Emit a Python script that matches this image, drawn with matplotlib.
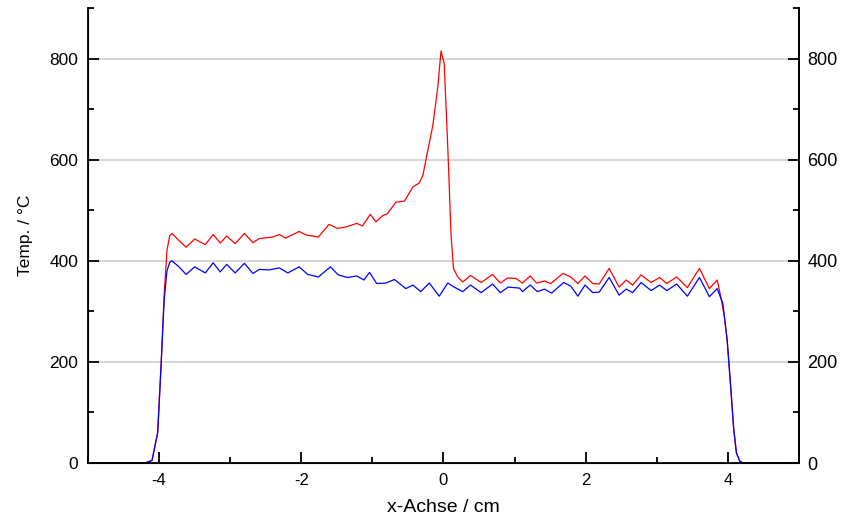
import matplotlib
matplotlib.use('Agg')
import matplotlib.pyplot as plt
from matplotlib.ticker import MultipleLocator

plt.rcParams['axes.unicode_minus'] = False
plt.rcParams['font.family'] = ['Liberation Sans', 'DejaVu Sans']

# rote Kurve
x_rot = [-5.0, -4.2, -4.1, -4.02, -3.97, -3.93, -3.89, -3.85, -3.82, -3.72, -3.62, -3.50,
         -3.35, -3.24, -3.14, -3.05, -2.93, -2.80, -2.68, -2.59, -2.40, -2.31, -2.22,
         -2.03, -1.93, -1.76, -1.61, -1.49, -1.37, -1.22, -1.14, -1.03, -0.95, -0.86,
         -0.79, -0.67, -0.55, -0.43, -0.34, -0.29, -0.23, -0.15, -0.08, -0.035, 0.01,
         0.06, 0.105, 0.14, 0.20, 0.27, 0.38, 0.53, 0.69, 0.80, 0.90, 1.02, 1.11, 1.22,
         1.31, 1.42, 1.51, 1.68, 1.79, 1.89, 1.99, 2.10, 2.19, 2.33, 2.47, 2.57, 2.66,
         2.78, 2.92, 3.04, 3.14, 3.28, 3.43, 3.60, 3.74, 3.85, 3.90, 3.95, 3.99, 4.04,
         4.08, 4.12, 4.17, 4.22, 5.0]
y_rot = [0, 0, 5, 60, 200, 330, 420, 450, 454, 440, 427, 443,
         432, 452, 435, 449, 434, 454, 436, 444, 447, 452, 445,
         458, 451, 447, 472, 464, 467, 474, 469, 492, 477, 489,
         493, 516, 518, 546, 554, 569, 612, 668, 744, 815, 790,
         625, 454, 385, 368, 358, 371, 357, 373, 356, 366, 365, 356, 370,
         356, 360, 355, 375, 368, 355, 370, 355, 354, 385, 348, 362, 352,
         372, 357, 367, 355, 368, 347, 385, 345, 362, 329, 290, 243, 150,
         70, 20, 3, 0, 0]

# blaue Kurve
x_blau = [-5.0, -4.2, -4.1, -4.02, -3.97, -3.93, -3.89, -3.85, -3.82, -3.72, -3.62, -3.50,
          -3.35, -3.24, -3.14, -3.05, -2.93, -2.80, -2.68, -2.59, -2.45, -2.31, -2.19,
          -2.03, -1.91, -1.76, -1.59, -1.48, -1.35, -1.22, -1.12, -1.04, -0.94, -0.81,
          -0.69, -0.53, -0.43, -0.32, -0.20, -0.06, 0.06, 0.15, 0.27, 0.38, 0.53, 0.69,
          0.80, 0.91, 1.07, 1.11, 1.22, 1.32, 1.42, 1.52, 1.69, 1.79, 1.89, 1.99, 2.10,
          2.19, 2.33, 2.47, 2.57, 2.66, 2.78, 2.92, 3.04, 3.14, 3.28, 3.43, 3.60, 3.74,
          3.85, 3.93, 3.99, 4.04, 4.08, 4.12, 4.17, 4.22, 5.0]
y_blau = [0, 0, 5, 60, 200, 320, 380, 397, 400, 388, 373, 388,
          376, 396, 378, 393, 376, 395, 375, 383, 382, 386, 376,
          388, 373, 368, 388, 372, 367, 370, 362, 377, 355, 356,
          363, 345, 352, 339, 356, 330, 356, 348, 339, 352, 337, 354,
          337, 348, 346, 339, 352, 339, 344, 336, 357, 350, 330, 352, 337,
          338, 367, 332, 344, 337, 357, 341, 352, 341, 354, 330, 367, 329,
          345, 315, 243, 150, 70, 20, 3, 0, 0]

fig = plt.figure(figsize=(8.57, 5.28), dpi=100)
ax = fig.add_axes([0.1027, 0.1231, 0.8296, 0.8617])

ax.plot(x_rot, y_rot, color='#ff0000', linewidth=0.9, solid_joinstyle='round')
ax.plot(x_blau, y_blau, color='#0000ff', linewidth=0.9, solid_joinstyle='round')

ax.set_xlim(-5, 5)
ax.set_ylim(0, 900)
ax.xaxis.set_major_locator(MultipleLocator(2))
ax.xaxis.set_minor_locator(MultipleLocator(1))
ax.yaxis.set_major_locator(MultipleLocator(200))
ax.yaxis.set_minor_locator(MultipleLocator(100))
ax.grid(axis='y', color='#d0d0d0', linewidth=1.2)
ax.set_axisbelow(True)

ax.spines['top'].set_visible(False)
for s in ['left', 'bottom', 'right']:
    ax.spines[s].set_linewidth(1.3)

ax.tick_params(which='major', direction='in', length=8, width=1.3)
ax.tick_params(which='minor', direction='in', length=4, width=1.3)
ax.tick_params(axis='y', labelsize=12.5, pad=7)
ax.tick_params(axis='x', labelsize=12, pad=7)

ax.set_xlabel('x-Achse / cm', fontsize=14, labelpad=8)
ax.set_ylabel('Temp. / °C', fontsize=12.5, labelpad=12)

# rechte Achse
ax2 = ax.twinx()
ax2.set_ylim(0, 900)
ax2.yaxis.set_major_locator(MultipleLocator(200))
ax2.yaxis.set_minor_locator(MultipleLocator(100))
ax2.spines['top'].set_visible(False)
ax2.spines['right'].set_linewidth(1.3)
ax2.tick_params(which='major', direction='in', length=8, width=1.3, labelsize=13, pad=6)
ax2.tick_params(which='minor', direction='in', length=4, width=1.3)

fig.savefig('out.png', dpi=100)
